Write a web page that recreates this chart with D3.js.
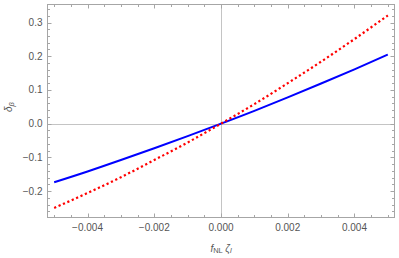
<!DOCTYPE html>
<html lang="en">
<head>
    <meta charset="UTF-8">
    <title>delta beta vs fNL zeta</title>
    <script src="https://d3js.org/d3.v7.min.js"></script>
    <style>
        body { margin: 0; background: #fff; }
        svg text { font-family: "Liberation Sans", Arial, sans-serif; }
    </style>
</head>
<body>
    <div id="chart"></div>

    <script>
        // values
        const fnl = [-0.005, -0.004, -0.003, -0.002, -0.001, 0, 0.001, 0.002, 0.003, 0.004, 0.005];
        const blueVals = [-0.174, -0.142, -0.108, -0.073, -0.037, 0, 0.038, 0.078, 0.119, 0.161, 0.205];
        const redVals = [-0.250, -0.206, -0.159, -0.108, -0.056, 0, 0.058, 0.120, 0.184, 0.251, 0.321];
        const xTicks = [-0.004, -0.002, 0, 0.002, 0.004];
        const yTicks = [-0.2, -0.1, 0, 0.1, 0.2, 0.3];

        const W = 399, H = 258;
        const pLeft = 47.5, pRight = 394.5, pTop = 4.5, pBottom = 217.5;

        const svg = d3.select("#chart").append("svg").attr("width", W).attr("height", H);

        const x = d3.scaleLinear().domain([-0.0052, 0.0052]).range([pLeft, pRight]);
        const y = d3.scaleLinear().domain([-0.2785, 0.3535]).range([pBottom, pTop]);

        const gray = "#a6a6a6";

        // zero axes
        svg.append("line").attr("x1", pLeft).attr("x2", pRight)
            .attr("y1", Math.round(y(0)) + 0.5).attr("y2", Math.round(y(0)) + 0.5)
            .attr("stroke", "#c4c4c4").attr("stroke-width", 1);
        svg.append("line").attr("y1", pTop).attr("y2", pBottom)
            .attr("x1", Math.round(x(0)) + 0.5).attr("x2", Math.round(x(0)) + 0.5)
            .attr("stroke", "#c4c4c4").attr("stroke-width", 1);

        // curves
        const line = d3.line().curve(d3.curveMonotoneX);
        const bluePts = fnl.map((v, i) => [x(v), y(blueVals[i])]);
        const redPts = fnl.map((v, i) => [x(v), y(redVals[i])]);

        svg.append("path").attr("d", line(bluePts))
            .attr("fill", "none").attr("stroke", "#0000ff").attr("stroke-width", 2);
        svg.append("path").attr("d", line(redPts))
            .attr("fill", "none").attr("stroke", "#ff0000").attr("stroke-width", 2.2)
            .attr("stroke-dasharray", "2.2,2.6");

        // frame
        svg.append("rect").attr("x", pLeft).attr("y", pTop)
            .attr("width", pRight - pLeft).attr("height", pBottom - pTop)
            .attr("fill", "none").attr("stroke", gray).attr("stroke-width", 1);

        // ticks (inward, all four sides)
        const tickG = svg.append("g").attr("stroke", gray).attr("stroke-width", 1);
        const isMajor = (v, list) => list.some(t => Math.abs(t - v) < 1e-9);

        x.ticks(20).forEach(v => {
            const len = isMajor(v, xTicks) ? 4 : 2.5;
            const px = Math.round(x(v)) + 0.5;
            tickG.append("line").attr("x1", px).attr("x2", px).attr("y1", pBottom).attr("y2", pBottom - len);
            tickG.append("line").attr("x1", px).attr("x2", px).attr("y1", pTop).attr("y2", pTop + len);
        });
        y.ticks(30).forEach(v => {
            const len = isMajor(v, yTicks) ? 4 : 2.5;
            const py = Math.round(y(v)) + 0.5;
            tickG.append("line").attr("y1", py).attr("y2", py).attr("x1", pLeft).attr("x2", pLeft + len);
            tickG.append("line").attr("y1", py).attr("y2", py).attr("x1", pRight).attr("x2", pRight - len);
        });

        // tick labels
        const fx = d3.format(".3f"), fy = d3.format(".1f");
        svg.append("g").selectAll("text").data(xTicks).enter().append("text")
            .attr("x", d => x(d)).attr("y", pBottom + 13.5)
            .attr("text-anchor", "middle").attr("font-size", 10).attr("fill", "#555")
            .text(d => fx(d));
        svg.append("g").selectAll("text").data(yTicks).enter().append("text")
            .attr("x", pLeft - 5).attr("y", d => y(d) + 3.5)
            .attr("text-anchor", "end").attr("font-size", 10).attr("fill", "#555")
            .text(d => fy(d));

        // axis labels
        const xl = svg.append("text").attr("x", x(0)).attr("y", 251.5)
            .attr("text-anchor", "middle").attr("font-size", 10).attr("fill", "#555");
        xl.append("tspan").attr("font-style", "italic").text("f");
        xl.append("tspan").attr("font-size", 7.5).attr("dy", 1.5).text("NL");
        xl.append("tspan").attr("dy", -1.5).attr("font-style", "italic").attr("dx", 2.5).text("ζ");
        xl.append("tspan").attr("font-style", "italic").attr("font-size", 7.5).attr("dy", 1.5).text("l");

        const yl = svg.append("text").attr("transform", "translate(12," + 107 + ") rotate(-90)")
            .attr("text-anchor", "middle").attr("font-size", 10).attr("fill", "#555");
        yl.append("tspan").attr("font-style", "italic").text("δ");
        yl.append("tspan").attr("font-style", "italic").attr("font-size", 7.5).attr("dy", 2).text("β");
    </script>
</body>
</html>
